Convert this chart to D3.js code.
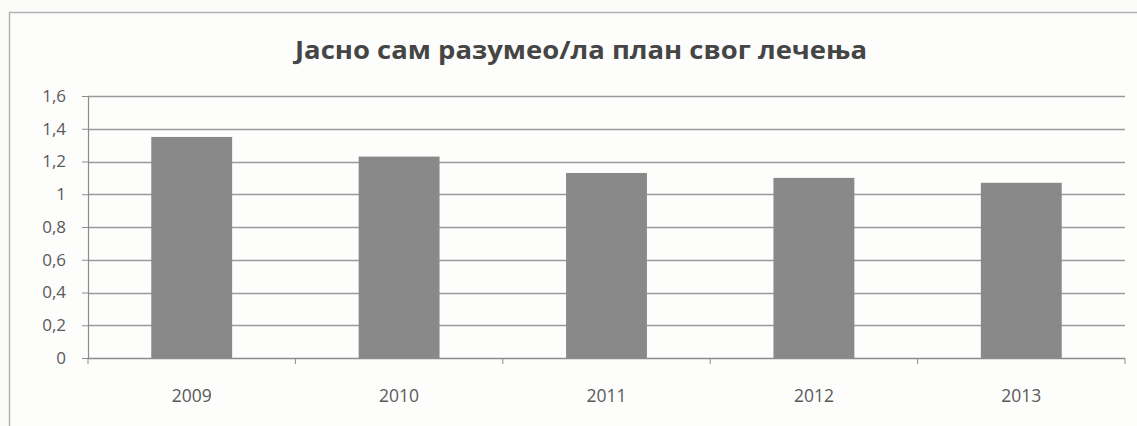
<!DOCTYPE html>
<html>
<head>
<meta charset="utf-8">
<script src="https://cdn.jsdelivr.net/npm/d3@7"></script>
<style>
  html, body { margin: 0; padding: 0; background: #fbfbfa; }
  svg { display: block; }
</style>
</head>
<body>
<svg id="chart" width="1137" height="426"></svg>
<script>
// Chart content
const chartTitle = "Јасно сам разумео/ла план свог лечења";
const years = ["2009", "2010", "2011", "2012", "2013"];
const scores = [1.35, 1.23, 1.13, 1.10, 1.07];
const yTicks = [0, 0.2, 0.4, 0.6, 0.8, 1, 1.2, 1.4, 1.6];

const W = 1137, H = 426;
const margin = { left: 88, right: 12, top: 96, bottom: 68 };
const plotW = W - margin.left - margin.right;
const plotH = H - margin.top - margin.bottom;
const font = "'Open Sans', 'Noto Sans', sans-serif";

const svg = d3.select("#chart");

// outer chart frame
svg.append("rect")
  .attr("x", 9.5).attr("y", 12.5)
  .attr("width", W + 20).attr("height", H + 20)
  .attr("fill", "#fdfdfc")
  .attr("stroke", "#b4b4b4").attr("stroke-width", 1.5);

svg.append("text")
  .attr("x", 581).attr("y", 59)
  .attr("text-anchor", "middle")
  .attr("font-family", font)
  .attr("font-weight", "bold")
  .attr("font-size", 25.5)
  .attr("textLength", 572)
  .attr("lengthAdjust", "spacingAndGlyphs")
  .attr("fill", "#454545")
  .text(chartTitle);

const x = d3.scaleBand()
  .domain(years)
  .range([0, plotW])
  .paddingInner(0.61)
  .paddingOuter(0.305);

const y = d3.scaleLinear()
  .domain([0, 1.6])
  .range([plotH, 0]);

const g = svg.append("g")
  .attr("transform", `translate(${margin.left},${margin.top})`);

// horizontal gridlines
g.append("g")
  .selectAll("line")
  .data(yTicks.filter(d => d > 0))
  .join("line")
  .attr("x1", 0).attr("x2", plotW)
  .attr("y1", d => Math.round(y(d)) + 0.5)
  .attr("y2", d => Math.round(y(d)) + 0.5)
  .attr("stroke", "#9a9a9a").attr("stroke-width", 1.4);

// bars
g.append("g")
  .selectAll("rect")
  .data(years.map((yr, i) => ({ yr, v: scores[i] })))
  .join("rect")
  .attr("x", d => x(d.yr))
  .attr("width", x.bandwidth())
  .attr("y", d => y(d.v))
  .attr("height", d => y(0) - y(d.v))
  .attr("fill", "#89898a");

// y axis
const yAxis = d3.axisLeft(y)
  .tickValues(yTicks)
  .tickSize(6)
  .tickPadding(16)
  .tickFormat(d => d3.format("~g")(d).replace(".", ","));

const yg = g.append("g").call(yAxis);
yg.select(".domain").attr("stroke", "#8c8c8c").attr("stroke-width", 1.2)
  .attr("d", `M0.5,${plotH}V0`);
yg.selectAll(".tick line").attr("stroke", "#8c8c8c").attr("x2", 0).attr("x1", -6);
yg.selectAll(".tick text")
  .attr("font-family", font)
  .attr("font-size", 17)
  .attr("fill", "#5a5a5a");

// x axis with ticks between categories
const xg = g.append("g").attr("transform", `translate(0,${plotH})`);
xg.append("line")
  .attr("x1", 0).attr("x2", plotW)
  .attr("y1", 0.5).attr("y2", 0.5)
  .attr("stroke", "#8c8c8c").attr("stroke-width", 1.4);
const step = x.step();
xg.selectAll("line.sep")
  .data(d3.range(years.length + 1))
  .join("line")
  .attr("class", "sep")
  .attr("x1", i => x(years[0]) - x.step() * x.paddingOuter() + i * step)
  .attr("x2", i => x(years[0]) - x.step() * x.paddingOuter() + i * step)
  .attr("y1", 0).attr("y2", 6)
  .attr("stroke", "#8c8c8c");
xg.selectAll("text")
  .data(years)
  .join("text")
  .attr("x", d => x(d) + x.bandwidth() / 2)
  .attr("y", 44)
  .attr("text-anchor", "middle")
  .attr("font-family", font)
  .attr("font-size", 17.5)
  .attr("fill", "#5a5a5a")
  .text(d => d);
</script>
</body>
</html>
